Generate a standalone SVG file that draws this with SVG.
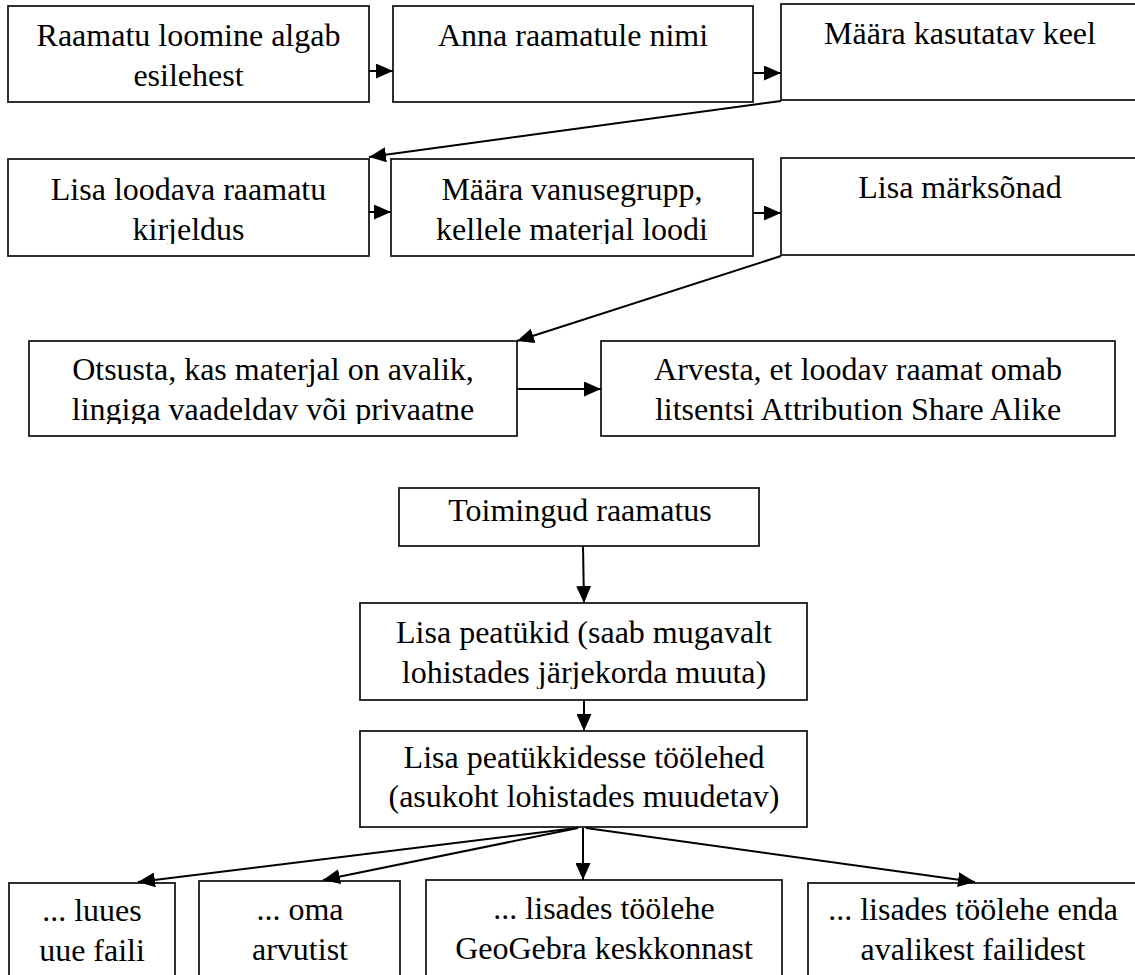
<svg xmlns="http://www.w3.org/2000/svg" width="1135" height="975" viewBox="0 0 1135 975">
<style>
.box{fill:#fff;stroke:#1a1a1a;stroke-width:1.8}
.t{font-family:'Liberation Serif','Times New Roman',Times,'DejaVu Serif',serif;font-size:32px;text-anchor:middle;fill:#000}
.c{fill:none;stroke:#000;stroke-width:2;marker-end:url(#ah)}
</style>
<defs>
<marker id="ah" markerUnits="userSpaceOnUse" markerWidth="17" markerHeight="15" refX="17" refY="7.5" orient="auto">
<path d="M0,0 L17,7.5 L0,15 z" fill="#000"/>
</marker>
<clipPath id="clipR2a"><rect x="8" y="159" width="361" height="85"/></clipPath>
<clipPath id="clipR2b"><rect x="391" y="159" width="362" height="85"/></clipPath>
<clipPath id="clipR3"><rect x="29" y="341" width="488" height="83"/></clipPath>
<clipPath id="clipLP"><rect x="360" y="603" width="447" height="86"/></clipPath>
</defs>
<rect width="1135" height="975" fill="#fff"/>

<g font-family="Liberation Serif, Times New Roman, serif">
<g id="n1"><rect class="box" x="8" y="6" width="361" height="96"/><text class="t" x="188.5" y="46">Raamatu loomine algab</text><text class="t" x="188.5" y="86">esilehest</text></g>
<g id="n2"><rect class="box" x="393" y="6" width="360" height="96"/><text class="t" x="573" y="46">Anna raamatule nimi</text></g>
<g id="n3"><rect class="box" x="781" y="4" width="358" height="96"/><text class="t" x="960" y="44">Määra kasutatav keel</text></g>

<g id="n4"><rect class="box" x="8" y="159" width="361" height="97"/><g clip-path="url(#clipR2a)"><text class="t" x="188.5" y="200">Lisa loodava raamatu</text><text class="t" x="188.5" y="240">kirjeldus</text></g></g>
<g id="n5"><rect class="box" x="391" y="159" width="362" height="97"/><g clip-path="url(#clipR2b)"><text class="t" x="572" y="200">Määra vanusegrupp,</text><text class="t" x="572" y="240">kellele materjal loodi</text></g></g>
<g id="n6"><rect class="box" x="781" y="158" width="358" height="97"/><text class="t" x="960" y="198">Lisa märksõnad</text></g>

<g id="n7"><rect class="box" x="29" y="341" width="488" height="95"/><g clip-path="url(#clipR3)"><text class="t" x="273" y="380">Otsusta, kas materjal on avalik,</text><text class="t" x="273" y="420">lingiga vaadeldav või privaatne</text></g></g>
<g id="n8"><rect class="box" x="601" y="341" width="514" height="95"/><text class="t" x="858" y="380">Arvesta, et loodav raamat omab</text><text class="t" x="858" y="420">litsentsi Attribution Share Alike</text></g>

<g id="n9"><rect class="box" x="399" y="488" width="360" height="58"/><text class="t" x="580" y="521">Toimingud raamatus</text></g>
<g id="n10"><rect class="box" x="360" y="603" width="447" height="97"/><g clip-path="url(#clipLP)"><text class="t" x="584" y="643">Lisa peatükid (saab mugavalt</text><text class="t" x="584" y="683">lohistades järjekorda muuta)</text></g></g>
<g id="n11"><rect class="box" x="360" y="731" width="447" height="96"/><text class="t" x="584" y="768">Lisa peatükkidesse töölehed</text><text class="t" x="584" y="807">(asukoht lohistades muudetav)</text></g>

<g id="n12"><rect class="box" x="9" y="883" width="166" height="110"/><text class="t" x="92" y="921">... luues</text><text class="t" x="92" y="961">uue faili</text></g>
<g id="n13"><rect class="box" x="199" y="881" width="201" height="110"/><text class="t" x="300" y="920">... oma</text><text class="t" x="300" y="960">arvutist</text></g>
<g id="n14"><rect class="box" x="426" y="880" width="356" height="110"/><text class="t" x="604" y="919">... lisades töölehe</text><text class="t" x="604" y="959">GeoGebra keskkonnast</text></g>
<g id="n15"><rect class="box" x="808" y="883" width="331" height="110"/><text class="t" x="973" y="920">... lisades töölehe enda</text><text class="t" x="973" y="960">avalikest failidest</text></g>
</g>

<g id="connectors">
<line class="c" x1="369" y1="71" x2="393" y2="71"/>
<line class="c" x1="753" y1="73" x2="781" y2="73"/>
<line class="c" x1="781" y1="101" x2="369" y2="157"/>
<line class="c" x1="369" y1="212" x2="391" y2="212"/>
<line class="c" x1="753" y1="213" x2="781" y2="213"/>
<line class="c" x1="781" y1="256" x2="517" y2="341"/>
<line class="c" x1="517" y1="389" x2="601" y2="389"/>
<line class="c" x1="583" y1="546" x2="584" y2="603"/>
<line class="c" x1="584" y1="700" x2="584" y2="731"/>
<line class="c" x1="576" y1="828" x2="138" y2="882"/>
<line class="c" x1="578" y1="828" x2="323" y2="880"/>
<line class="c" x1="583" y1="828" x2="583" y2="880"/>
<line class="c" x1="586" y1="828" x2="975" y2="882"/>
</g>
</svg>
